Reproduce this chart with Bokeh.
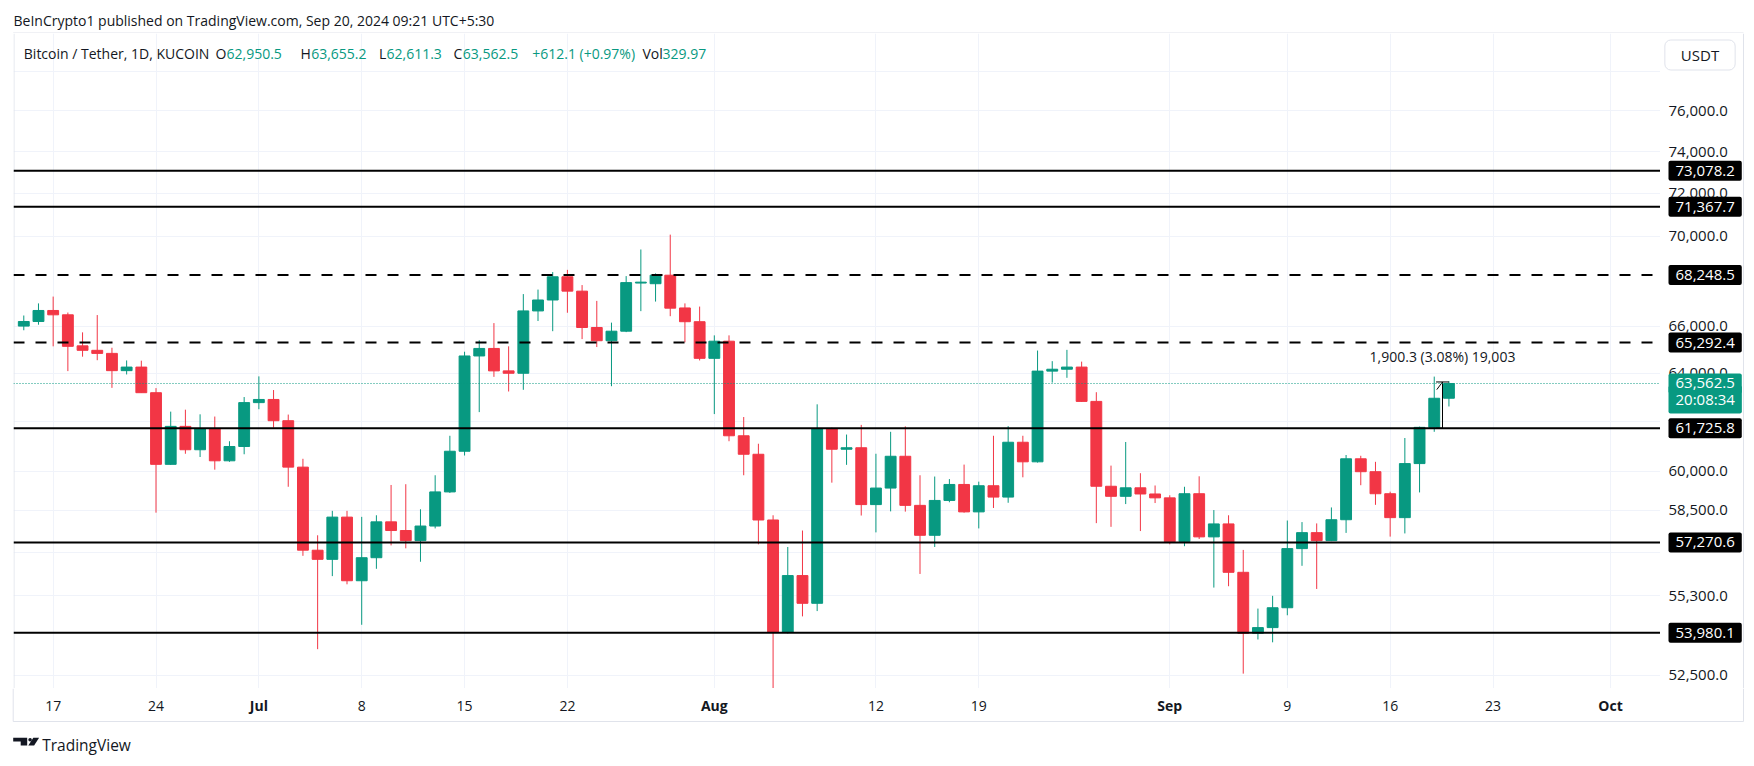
import pandas as pd
from bokeh.plotting import figure
from bokeh.layouts import column, row
from bokeh.models import (Range1d, FixedTicker, Span, Label, ColumnDataSource, Grid)
from bokeh.core.properties import value
from bokeh.embed import file_html
from bokeh.resources import INLINE

# ---------------- data ----------------
dates = pd.date_range("2024-06-15", "2024-09-20", freq="D")

opens = [66000, 66200, 66680, 66490, 65150, 64960, 64830, 64100, 64250, 63180,
         60280, 61800, 60860, 61700, 60420, 60990,
         62770, 62900, 62030, 60170, 56980, 56640, 58230, 55850, 56700, 58050,
         57720, 57340, 57890, 59200, 60800, 64720, 65040, 64090, 63990, 66660,
         67140, 68170, 67530, 65940, 65370, 65780, 67890, 67860, 68240, 66790, 66190,
         64620, 65350, 61420, 60680, 58120, 53990, 56040, 55030, 61700, 60880,
         60940, 58710, 59350, 60600, 58680, 57540, 58870, 59490, 58430, 59440,
         59000, 61160, 60380, 64080, 64160, 64250, 62820, 59420, 59030, 59360, 59120,
         58970, 57300, 59130, 57480, 57970, 56160, 53960, 54160, 54870, 57040,
         57640, 57340, 58130, 60500, 59990, 59130, 58210, 60310, 61760, 62950.5]
highs = [66460, 66990, 67290, 66590, 65730, 66480, 65070, 64530, 64520, 63370,
         62400, 62480, 62290, 62200, 61200, 63000,
         63860, 63290, 62280, 60500, 57540, 58470, 58470, 58240, 58300, 59470,
         59500, 58530, 59850, 61420, 64900, 65390, 66130, 65130, 67400, 67600,
         68380, 68480, 67800, 67100, 66150, 68200, 69400, 68320, 70080, 66990, 66850,
         65600, 65600, 62180, 61100, 58300, 57100, 57720, 62700, 61750, 61470,
         61860, 60700, 61580, 61800, 59850, 59800, 59700, 60270, 59600, 61420,
         61810, 61420, 64950, 64500, 64980, 64480, 63200, 60230, 61170, 59930, 59450,
         59070, 59400, 59810, 58500, 58300, 56990, 54840, 55300, 58100, 58040,
         57990, 58600, 60650, 60620, 60380, 59210, 61330, 61790, 63850, 63655.2]
lows = [65820, 66060, 65130, 64080, 64690, 64540, 63380, 63940, 63170, 58400,
        60260, 60700, 60570, 60070, 60380, 60680,
        62500, 61750, 59400, 56770, 53400, 56020, 55720, 54260, 56290, 57160,
        57050, 56550, 57800, 59160, 60630, 62380, 63840, 63230, 63300, 66220,
        65780, 66580, 65440, 65100, 63450, 65740, 66650, 67070, 66430, 65300, 64530,
        62300, 61200, 59850, 57200, 49000, 53950, 54560, 54750, 59560, 60260,
        58290, 57650, 58450, 58440, 56100, 57100, 58800, 58400, 57800, 58580,
        58780, 59770, 60350, 63600, 63800, 62800, 58000, 57860, 58730, 57700, 58770,
        57200, 57130, 57400, 55600, 55650, 52550, 53740, 53640, 54600, 56400,
        55550, 57320, 57630, 59460, 58700, 57490, 57610, 59180, 61580, 62611.3]
closes = [66200, 66680, 66490, 65130, 64960, 64830, 64100, 64250, 63180, 60280,
          61800, 60860, 61700, 60420, 60990, 62770,
          62900, 62030, 60170, 56980, 56640, 58230, 55850, 56700, 58050, 57720,
          57340, 57890, 59200, 60800, 64720, 65040, 64090, 63990, 66660, 67140,
          68170, 67530, 65940, 65370, 65780, 67910, 67930, 68240, 66780, 66190, 64620,
          65350, 61420, 60680, 58120, 53990, 56040, 55030, 61700, 60880, 60940,
          58710, 59350, 60600, 58680, 57540, 58870, 59490, 58430, 59440, 59000,
          61160, 60380, 64080, 64160, 64250, 62820, 59420, 59030, 59360, 59120, 58970,
          57300, 59130, 57480, 57970, 56160, 53960, 54160, 54870, 57040, 57640,
          57340, 58130, 60500, 59990, 59130, 58210, 60310, 61760, 62950, 63562.5]

levels_solid = [73078.2, 71367.7, 61725.8, 57270.6, 53980.1]
levels_dashed = [68248.5, 65292.4]
last_price = 63562.5
countdown = "20:08:34"

legend_symbol = "Bitcoin / Tether, 1D, KUCOIN"
legend_change = 612.1
legend_change_pct = 0.97
legend_volume = 329.97
header_text = "BeInCrypto1 published on TradingView.com, Sep 20, 2024 09:21 UTC+5:30"
currency = "USDT"

measure_start = "2024-09-19 03:00"
measure_end = "2024-09-20 00:00"
measure_low = 61725.8
measure_change = 1900.3
measure_pct = 3.08
measure_volume = 19003

xtick_dates = ["2024-06-17", "2024-06-24", "2024-07-01", "2024-07-08", "2024-07-15",
               "2024-07-22", "2024-08-01", "2024-08-12", "2024-08-19", "2024-09-01",
               "2024-09-09", "2024-09-16", "2024-09-23", "2024-10-01"]
xtick_labels = ["17", "24", "Jul", "8", "15", "22", "Aug", "12", "19", "Sep",
                "9", "16", "23", "Oct"]
ytick_values = [52500, 55300, 58500, 60000, 64000, 66000, 70000, 72000, 74000, 76000]
ygrid_values = [52500, 55300, 56900, 58500, 60000, 62000, 64000, 66000, 70000,
                72000, 74000, 76000, 78000]

# ---------------- styling / layout ----------------
GREEN = "#089981"
RED = "#F23645"
TEXT = "#131722"
GRID = "#f0f3fa"
BORDER = "#e0e3eb"
FONT = "Open Sans"

X0, X1 = -0.70, 111.4          # visible day window
Y0, Y1 = 52040, 79960          # visible price window (log)
LEFT, FRAME_W, PRICE_W = 13, 1647, 90
TOTAL_W = LEFT + FRAME_W + PRICE_W
HEAD_H, MAIN_H, FOOT_H = 33, 655, 72
DPP = (X1 - X0) / FRAME_W      # days per pixel

base = dates[0]
def day(t):
    return (pd.Timestamp(t) - base) / pd.Timedelta(days=1)


def pad(lr, tb):
    return dict(left=lr, right=lr, top=tb, bottom=tb)


def mkfig(**kw):
    opts = dict(output_backend="svg", toolbar_location=None, title=None,
                x_axis_location=None, y_axis_location=None, min_border=0)
    opts.update(kw)
    f = figure(**opts)
    f.outline_line_color = None
    f.background_fill_color = "white"
    f.border_fill_color = "white"
    for g in f.grid:
        g.visible = False
    return f


# ---------- main chart ----------
main = mkfig(width=LEFT + FRAME_W, height=MAIN_H, x_range=Range1d(X0, X1),
             y_range=Range1d(Y0, Y1), y_axis_type="log", min_border_left=LEFT)
xt = [day(d) for d in xtick_dates]
main.add_layout(Grid(dimension=0, ticker=FixedTicker(ticks=xt), grid_line_color=GRID))
main.add_layout(Grid(dimension=1, ticker=FixedTicker(ticks=ygrid_values), grid_line_color=GRID))
main.add_layout(Span(location=0.5, location_units="screen", dimension="height",
                     line_color=BORDER, line_width=1))

xs = [day(d) for d in dates]
colors = [GREEN if c >= o else RED for o, c in zip(opens, closes)]
src = ColumnDataSource(dict(
    x=xs, o=opens, h=highs, l=lows, c=closes,
    top=[max(o, c) for o, c in zip(opens, closes)],
    bottom=[min(o, c) for o, c in zip(opens, closes)],
    color=colors))

for v in levels_solid:
    main.add_layout(Span(location=v, dimension="width", line_color="black", line_width=2))
for v in levels_dashed:
    main.add_layout(Span(location=v, dimension="width", line_color="black", line_width=2,
                         line_dash="11 11"))
main.add_layout(Span(location=last_price, dimension="width", line_color=GREEN,
                     line_width=1, line_dash="1 2"))

main.segment(x0="x", y0="h", x1="x", y1="l", color="color", line_width=1, source=src)
main.vbar(x="x", width=0.74, top="top", bottom="bottom", fill_color="color",
          line_color="color", line_width=1, source=src)

# measure tool
mx0, mx1 = day(measure_start), day(measure_end)
mtop = measure_low + measure_change
mmid = (mx0 + mx1) / 2
main.segment(x0=[mmid, mx0, mx0], y0=[measure_low, mtop, measure_low],
             x1=[mmid, mx1, mmid], y1=[mtop, mtop, measure_low], color="black", line_width=1)
main.segment(x0=[mx0 + 0.05], y0=[mtop * 0.995], x1=[mmid], y1=[mtop],
             color="black", line_width=1)
main.add_layout(Label(x=mmid, y=mtop, x_units="data", y_units="data", y_offset=25,
                      text=f"{measure_change:,.1f} ({measure_pct:.2f}%) {measure_volume:,}",
                      text_font=FONT, text_font_size="14px", text_color=TEXT,
                      text_align="center", text_baseline="middle"))

# legend row (screen units relative to the frame's bottom-left)
LEG_Y = 634.7
legend_parts = [
    (10.3, legend_symbol, TEXT),
    (202, "O", TEXT), (213, f"{opens[-1]:,.1f}", GREEN),
    (287, "H", TEXT), (297.7, f"{highs[-1]:,.1f}", GREEN),
    (365.5, "L", TEXT), (373, f"{lows[-1]:,.1f}", GREEN),
    (440, "C", TEXT), (449.3, f"{closes[-1]:,.1f}", GREEN),
    (518.7, f"+{legend_change:,.1f} (+{legend_change_pct:.2f}%)", GREEN),
    (629, "Vol", TEXT), (649, f"{legend_volume:.2f}", GREEN),
]
for x, t, col in legend_parts:
    main.add_layout(Label(x=x, y=LEG_Y, x_units="screen", y_units="screen", text=t,
                          text_font=FONT, text_font_size="14px", text_color=col,
                          text_baseline="middle"))

# ---------- price scale ----------
price = mkfig(width=PRICE_W, height=MAIN_H, x_range=Range1d(0, PRICE_W),
              y_range=main.y_range, y_axis_type="log")
price.add_layout(Span(location=83, dimension="height", line_color=BORDER, line_width=1))
price.text(x=[8] * len(ytick_values), y=ytick_values,
           text=[f"{v:,.1f}" for v in ytick_values],
           text_font=value(FONT), text_font_size="15px", text_color=TEXT,
           text_baseline="middle", text_align="left")
for v in levels_solid + levels_dashed:
    price.add_layout(Label(x=8, y=v, x_units="data", y_units="data", text=f"{v:,.1f}",
                           text_font=FONT, text_font_size="15px", text_color="white",
                           text_align="left", text_baseline="middle",
                           background_fill_color="black", padding=pad(7, 5),
                           border_radius=2))
# last price tag: price line + countdown line, stacked on one teal tag
price.add_layout(Label(x=8, y=last_price, x_units="data", y_units="data", y_offset=-16,
                       text=countdown,
                       text_font=FONT, text_font_size="15px", text_color="white",
                       text_align="left", text_baseline="middle",
                       background_fill_color=GREEN, padding=pad(7, 4), border_radius=2))
price.add_layout(Label(x=8, y=last_price, x_units="data", y_units="data",
                       text=f"{last_price:,.1f}",
                       text_font=FONT, text_font_size="15px", text_color="white",
                       text_align="left", text_baseline="middle",
                       background_fill_color=GREEN, padding=pad(7, 5), border_radius=2))
price.add_layout(Label(x=39.5, y=633.5, x_units="data", y_units="screen", text=currency,
                       text_font=FONT, text_font_size="15px", text_color=TEXT,
                       text_align="center", text_baseline="middle",
                       background_fill_color="white", border_line_color=BORDER,
                       padding=pad(16, 5), border_radius=6))

# ---------- header ----------
header = mkfig(width=TOTAL_W, height=HEAD_H, x_range=Range1d(0, TOTAL_W),
               y_range=Range1d(HEAD_H, 0))
header.text(x=[13], y=[20], text=[header_text], text_font=value(FONT),
            text_font_size="14px", text_color=TEXT, text_baseline="middle")
header.segment(x0=[12.7], y0=[32.5], x1=[1743], y1=[32.5], color=BORDER, line_width=1)

# ---------- footer (time scale + logo) ----------
ytop = HEAD_H + MAIN_H
footer = mkfig(width=TOTAL_W, height=FOOT_H, x_range=Range1d(0, TOTAL_W),
               y_range=Range1d(ytop + FOOT_H, ytop))
footer.extra_x_ranges = {"days": Range1d(X0 - LEFT * DPP, X0 + (TOTAL_W - LEFT) * DPP)}
months = {"Jul", "Aug", "Sep", "Oct"}
num_x = [t for t, lab in zip(xt, xtick_labels) if lab not in months]
num_l = [lab for lab in xtick_labels if lab not in months]
mon_x = [t for t, lab in zip(xt, xtick_labels) if lab in months]
mon_l = [lab for lab in xtick_labels if lab in months]
footer.text(x=num_x, y=[705] * len(num_x), text=num_l, x_range_name="days",
            text_font=value(FONT), text_font_size="14px", text_color=TEXT,
            text_align="center", text_baseline="middle")
footer.text(x=mon_x, y=[705] * len(mon_x), text=mon_l, x_range_name="days",
            text_font=value(FONT), text_font_size="14px", text_font_style="bold",
            text_color=TEXT, text_align="center", text_baseline="middle")
footer.segment(x0=[12.7, 12.7, 1743], y0=[721, ytop, ytop], x1=[1743, 12.7, 1743],
               y1=[721, 721, 721], color=BORDER, line_width=1)
# logo
footer.patches(xs=[[12.7, 26.7, 26.7, 20.2, 20.2, 12.7], [32.8, 38.6, 33.6, 27.8]],
               ys=[[737.3, 737.3, 745, 745, 741, 741], [737.3, 737.3, 745, 745]],
               fill_color=TEXT, line_color=None)
footer.circle(x=[29.6], y=[739.3], radius=1.8, fill_color=TEXT, line_color=None)
footer.text(x=[41.7], y=[744], text=["TradingView"], text_font=value(FONT),
            text_font_size="15.5px", text_color=TEXT, text_baseline="middle")

layout = column(header, row(main, price), footer)
open("out.html", "w").write(file_html(layout, INLINE))
